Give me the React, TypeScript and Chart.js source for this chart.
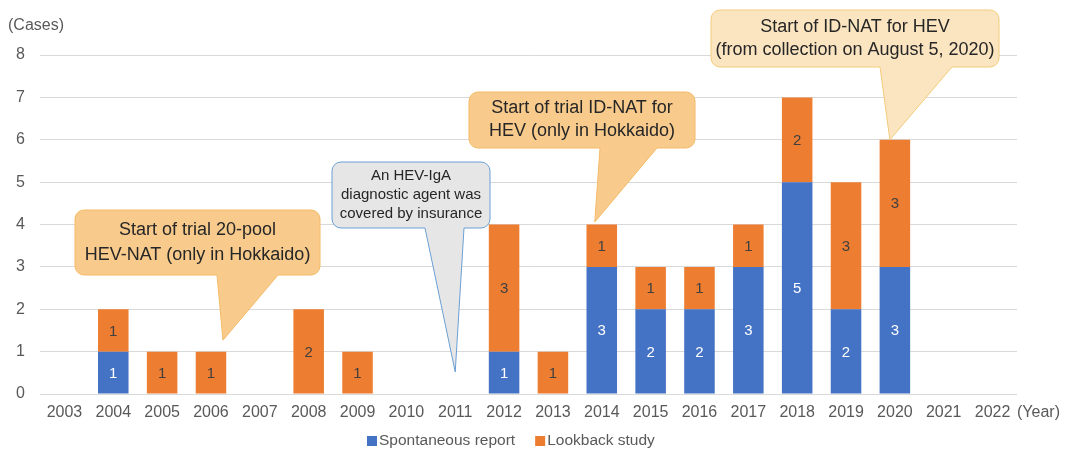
import React, { useEffect, useRef } from "react";
import { Chart, registerables } from "chart.js";

Chart.register(...registerables);

const years = ["2003","2004","2005","2006","2007","2008","2009","2010","2011","2012","2013","2014","2015","2016","2017","2018","2019","2020","2021","2022"];
const spontaneous = [0,1,0,0,0,0,0,0,0,1,0,3,2,2,3,5,2,3,0,0];
const lookback = [0,1,1,1,0,2,1,0,0,3,1,1,1,1,1,2,3,3,0,0];
const yTicks = [0,1,2,3,4,5,6,7,8];
const seriesNames = ["Spontaneous report", "Lookback study"];
const seriesColors = ["#4472C4", "#ED7D31"];
const labelColors = ["#FFFFFF", "#404040"];

const FONT = "'Liberation Sans', Arial, sans-serif";

type Callout = {
  lines: string[];
  box: [number, number, number, number];
  base: [number, number];
  tipCat: number;
  tipDx: number;
  tipVal: number;
  fill: string;
  stroke: string;
  size: number;
  lh: number;
};

const callouts: Callout[] = [
  { lines: ["Start of trial 20-pool", "HEV-NAT (only in Hokkaido)"], box: [75, 210, 245, 65], base: [217, 278], tipCat: 3, tipDx: 12, tipVal: 1.27, fill: "#F8CB8D", stroke: "#F4BA66", size: 18, lh: 25 },
  { lines: ["An HEV-IgA", "diagnostic agent was", "covered by insurance"], box: [332, 162, 158, 66], base: [425, 464], tipCat: 8, tipDx: 0, tipVal: 0.52, fill: "#E7E6E6", stroke: "#6A9FD4", size: 15, lh: 19 },
  { lines: ["Start of trial ID-NAT for", "HEV (only in Hokkaido)"], box: [469, 92, 226, 56], base: [600, 657], tipCat: 11, tipDx: -7, tipVal: 4.06, fill: "#F8CB8D", stroke: "#F4BA66", size: 18, lh: 23 },
  { lines: ["Start of ID-NAT for HEV", "(from collection on August 5, 2020)"], box: [711, 10, 288, 57], base: [880, 952], tipCat: 17, tipDx: -5, tipVal: 6, fill: "#FBE5C0", stroke: "#F3CB7A", size: 18, lh: 23 },
];

const extrasPlugin = {
  id: "extras",
  afterDatasetsDraw(chart: any) {
    const ctx = chart.ctx;
    const xs = chart.scales.x;
    const ys = chart.scales.y;
    ctx.save();
    // data labels
    ctx.font = `15px ${FONT}`;
    ctx.textAlign = "center";
    ctx.textBaseline = "middle";
    chart.data.datasets.forEach((ds: any, di: number) => {
      const meta = chart.getDatasetMeta(di);
      meta.data.forEach((el: any, i: number) => {
        const v = ds.data[i];
        if (!v) return;
        ctx.fillStyle = labelColors[di];
        ctx.fillText(String(v), el.x, (el.y + el.base) / 2 + 1);
      });
    });
    // callouts
    callouts.forEach((c) => {
      const [x, y, w, h] = c.box;
      const r = 9;
      const tipX = xs.getPixelForValue(c.tipCat) + c.tipDx;
      const tipY = ys.getPixelForValue(c.tipVal);
      ctx.beginPath();
      ctx.moveTo(x + r, y);
      ctx.lineTo(x + w - r, y);
      ctx.arcTo(x + w, y, x + w, y + r, r);
      ctx.lineTo(x + w, y + h - r);
      ctx.arcTo(x + w, y + h, x + w - r, y + h, r);
      ctx.lineTo(c.base[1], y + h);
      ctx.lineTo(tipX, tipY);
      ctx.lineTo(c.base[0], y + h);
      ctx.lineTo(x + r, y + h);
      ctx.arcTo(x, y + h, x, y + h - r, r);
      ctx.lineTo(x, y + r);
      ctx.arcTo(x, y, x + r, y, r);
      ctx.closePath();
      ctx.fillStyle = c.fill;
      ctx.fill();
      ctx.strokeStyle = c.stroke;
      ctx.lineWidth = 1;
      ctx.stroke();
      ctx.fillStyle = "#262626";
      ctx.font = `${c.size}px ${FONT}`;
      ctx.textAlign = "center";
      ctx.textBaseline = "middle";
      const cy = y + h / 2;
      const n = c.lines.length;
      c.lines.forEach((t, i) => {
        ctx.fillText(t, x + w / 2, cy + (i - (n - 1) / 2) * c.lh);
      });
    });
    // axis titles
    ctx.fillStyle = "#595959";
    ctx.font = `16px ${FONT}`;
    ctx.textAlign = "left";
    ctx.textBaseline = "middle";
    ctx.fillText("(Cases)", 8, 26);
    ctx.fillText("(Year)", chart.chartArea.right, 413);
    // legend
    ctx.font = `15.5px ${FONT}`;
    let lx = 367;
    const ly = 441;
    chart.data.datasets.forEach((ds: any, di: number) => {
      ctx.fillStyle = ds.backgroundColor;
      ctx.fillRect(lx, ly - 5, 10, 10);
      ctx.fillStyle = "#595959";
      ctx.textAlign = "left";
      ctx.fillText(ds.label, lx + 12, ly);
      lx += 12 + ctx.measureText(ds.label).width + 20;
    });
    ctx.restore();
  },
};

export default function App() {
  const ref = useRef<HTMLCanvasElement | null>(null);
  useEffect(() => {
    if (!ref.current) return;
    const chart = new Chart(ref.current, {
      type: "bar",
      data: {
        labels: years,
        datasets: [
          { label: seriesNames[0], data: spontaneous, backgroundColor: seriesColors[0], borderWidth: 0, barPercentage: 0.625, categoryPercentage: 1 },
          { label: seriesNames[1], data: lookback, backgroundColor: seriesColors[1], borderWidth: 0, barPercentage: 0.625, categoryPercentage: 1 },
        ],
      },
      options: {
        animation: false,
        responsive: true,
        maintainAspectRatio: false,
        layout: { padding: { top: 55, right: 50, left: 0, bottom: 0 } },
        plugins: { legend: { display: false }, tooltip: { enabled: false } },
        scales: {
          x: {
            stacked: true,
            grid: { display: false, drawTicks: false },
            border: { display: false },
            ticks: { color: "#595959", font: { family: FONT, size: 16 }, padding: 9, maxRotation: 0, autoSkip: false },
            afterFit: (s: any) => { s.height = 56; },
          },
          y: {
            stacked: true,
            min: yTicks[0],
            max: yTicks[yTicks.length - 1],
            grid: { color: "#D9D9D9", drawTicks: false, lineWidth: 1 },
            border: { display: false },
            ticks: { stepSize: 1, color: "#595959", font: { family: FONT, size: 16 }, padding: 15 },
            afterFit: (s: any) => { s.width = 40; },
          },
        },
      },
      plugins: [extrasPlugin],
    });
    return () => chart.destroy();
  }, []);
  return (
    <div style={{ position: "fixed", left: 0, top: 0, width: 1067, height: 450, background: "#fff" }}>
      <canvas ref={ref} />
    </div>
  );
}
